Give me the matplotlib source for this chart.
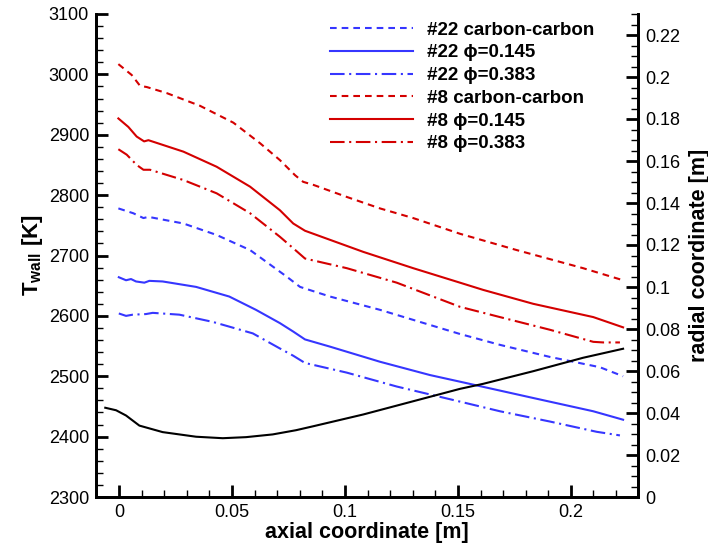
import matplotlib
matplotlib.use('Agg')
import matplotlib.pyplot as plt
from matplotlib.ticker import MultipleLocator, FuncFormatter

plt.rcParams['font.family'] = ['Liberation Sans', 'DejaVu Sans']
plt.rcParams['mathtext.fontset'] = 'custom'
plt.rcParams['mathtext.rm'] = 'Liberation Sans'
plt.rcParams['mathtext.bf'] = 'Liberation Sans:bold'

# wall temperature along the nozzle, axial coordinate [m] vs T [K]
x8_cc = [-0.0003, 0.0056, 0.0093, 0.0123, 0.0211, 0.0358, 0.0506, 0.0624, 0.0712, 0.0779,
         0.0815, 0.0860, 0.1008, 0.1155, 0.1302, 0.1509, 0.1760, 0.2054, 0.2231]
t8_cc = [3017, 2999, 2981, 2979, 2969, 2948, 2920, 2886, 2858, 2833,
         2822, 2817, 2797, 2778, 2762, 2736, 2709, 2679, 2659]

x8_145 = [-0.0003, 0.0041, 0.0078, 0.0111, 0.0130, 0.0285, 0.0432, 0.0580, 0.0712, 0.0771,
          0.0823, 0.0904, 0.1081, 0.1302, 0.1509, 0.1612, 0.1833, 0.2099, 0.2231]
t8_145 = [2927, 2913, 2897, 2889, 2891, 2872, 2847, 2814, 2775, 2753,
          2741, 2730, 2706, 2679, 2655, 2643, 2620, 2598, 2581]

x8_383 = [-0.0003, 0.0034, 0.0078, 0.0108, 0.0137, 0.0285, 0.0432, 0.0580, 0.0712, 0.0771,
          0.0823, 0.1008, 0.1229, 0.1509, 0.1686, 0.1907, 0.2099, 0.2143, 0.2217]
t8_383 = [2876, 2867, 2850, 2842, 2842, 2825, 2803, 2770, 2731, 2712,
          2695, 2679, 2655, 2615, 2598, 2577, 2557, 2556, 2556]

x22_cc = [-0.0003, 0.0063, 0.0108, 0.0130, 0.0285, 0.0432, 0.0580, 0.0742, 0.0801, 0.0934,
          0.1155, 0.1376, 0.1509, 0.1686, 0.1907, 0.2128, 0.2231]
t22_cc = [2778, 2770, 2762, 2764, 2753, 2734, 2709, 2665, 2648, 2632,
          2610, 2585, 2570, 2552, 2532, 2515, 2500]

x22_145 = [-0.0001, 0.0031, 0.0053, 0.0075, 0.0112, 0.0134, 0.0193, 0.0341, 0.0488, 0.0606,
           0.0712, 0.0771, 0.0823, 0.0934, 0.1155, 0.1376, 0.1509, 0.1833, 0.2099, 0.2231]
t22_145 = [2664, 2659, 2661, 2657, 2655, 2658, 2657, 2648, 2632, 2610,
           2588, 2574, 2561, 2549, 2524, 2502, 2491, 2464, 2442, 2428]

x22_383 = [-0.0001, 0.0031, 0.0061, 0.0119, 0.0149, 0.0267, 0.0415, 0.0592, 0.0712, 0.0771,
           0.0823, 0.1008, 0.1229, 0.1509, 0.1686, 0.1907, 0.2114, 0.2217]
t22_383 = [2604, 2600, 2602, 2603, 2605, 2602, 2590, 2571, 2546, 2534,
           2522, 2506, 2483, 2458, 2442, 2425, 2408, 2402]

# nozzle contour, radial coordinate [m]
x_wall = [-0.0061, -0.0013, 0.0031, 0.0090, 0.0193, 0.0341, 0.0459, 0.0562, 0.0680, 0.0783,
          0.0860, 0.1081, 0.1302, 0.1509, 0.1612, 0.1833, 0.2054, 0.2231]
r_wall = [0.0425, 0.0413, 0.0388, 0.0340, 0.0309, 0.0287, 0.0280, 0.0285, 0.0298, 0.0318,
          0.0337, 0.0393, 0.0456, 0.0515, 0.0539, 0.0599, 0.0663, 0.0706]

labels = ['#22 carbon-carbon', '#22 \u03d5=0.145', '#22 \u03d5=0.383',
          '#8 carbon-carbon', '#8 \u03d5=0.145', '#8 \u03d5=0.383']

blue = '#3636ff'
red = '#d40000'
dashed = (0, (3.2, 2.4))
dashdot = (0, (7, 2.2, 1, 2.2))

fig = plt.figure(figsize=(7.08, 5.44), dpi=100)
ax = fig.add_axes([96 / 708, 1 - 497 / 544, 542 / 708, 483 / 544])
ax2 = ax.twinx()

lw = 1.5
ax.plot(x22_cc, t22_cc, color=blue, lw=lw, ls=dashed, label=labels[0])
ax.plot(x22_145, t22_145, color=blue, lw=lw, ls='-', label=labels[1])
ax.plot(x22_383, t22_383, color=blue, lw=lw, ls=dashdot, label=labels[2])
ax.plot(x8_cc, t8_cc, color=red, lw=lw, ls=dashed, label=labels[3])
ax.plot(x8_145, t8_145, color=red, lw=lw, ls='-', label=labels[4])
ax.plot(x8_383, t8_383, color=red, lw=lw, ls=dashdot, label=labels[5])
ax2.plot(x_wall, r_wall, color='black', lw=lw)

ax.set_xlim(-0.0102, 0.2297)
ax.set_ylim(2300, 3100)
ax2.set_ylim(0, 0.23)

fmt = FuncFormatter(lambda v, p: '%g' % round(v, 4))
ax.xaxis.set_major_locator(MultipleLocator(0.05))
ax.xaxis.set_minor_locator(MultipleLocator(0.01))
ax.xaxis.set_major_formatter(fmt)
ax.yaxis.set_major_locator(MultipleLocator(100))
ax.yaxis.set_minor_locator(MultipleLocator(20))
ax2.yaxis.set_major_locator(MultipleLocator(0.02))
ax2.yaxis.set_minor_locator(MultipleLocator(0.005))
ax2.yaxis.set_major_formatter(fmt)

for a in (ax, ax2):
    a.spines['top'].set_visible(False)
    for s in a.spines.values():
        s.set_linewidth(2.0)
    a.tick_params(which='major', direction='in', length=8.5, width=2.0, labelsize=13, pad=5)
    a.tick_params(which='minor', direction='in', length=5, width=1.0)
ax.tick_params(axis='y', which='both', right=False)
ax.tick_params(axis='x', which='both', top=False)
ax2.tick_params(axis='x', which='both', top=False, bottom=False)

ax.set_xlabel('axial coordinate [m]', fontsize=15.5, fontweight='bold', labelpad=1)
ax.set_ylabel(r'$\mathbf{T_{wall}}$ [K]', fontsize=16, fontweight='bold', labelpad=3)
ax2.set_ylabel('radial coordinate [m]', fontsize=15.5, fontweight='bold', labelpad=6)

leg = ax.legend(loc='upper left', bbox_to_anchor=(0.432, 0.9845), frameon=False,
                borderpad=0, borderaxespad=0, handlelength=4.43, handletextpad=0.75,
                labelspacing=0.3, prop={'weight': 'bold', 'size': 13.5})

fig.savefig('out.png', dpi=100)
